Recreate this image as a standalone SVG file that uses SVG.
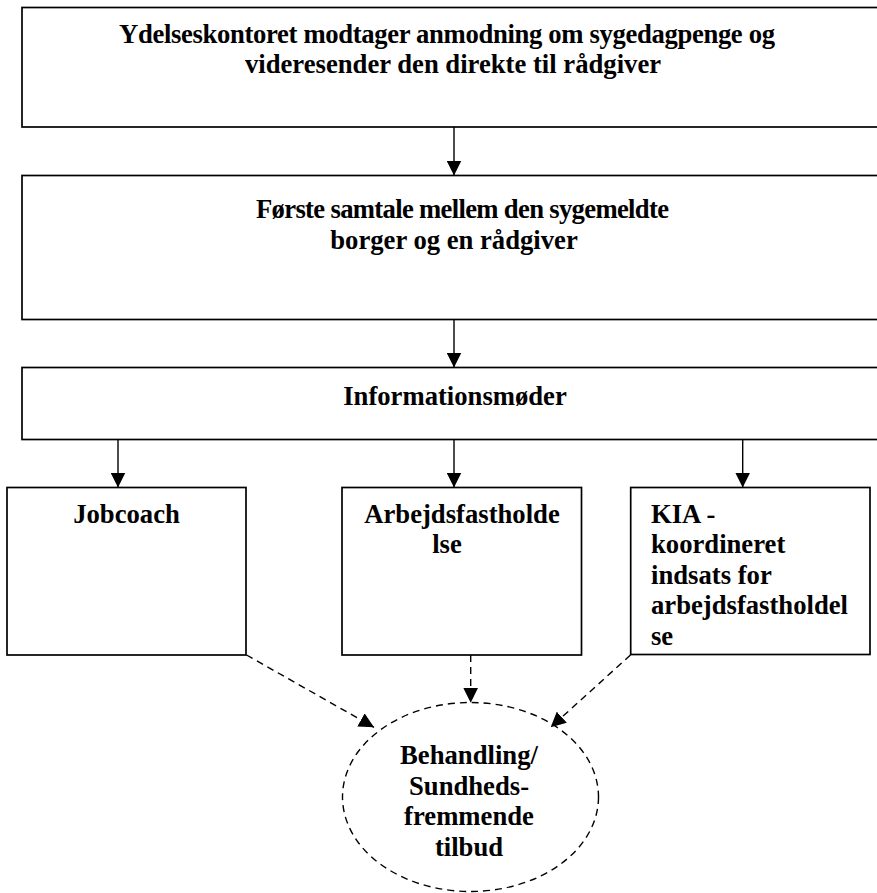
<svg xmlns="http://www.w3.org/2000/svg" width="877" height="893" viewBox="0 0 877 893">
<style>
.box{fill:#fff;stroke:#000;stroke-width:1.7}
.t{font-family:"Liberation Serif","Times New Roman",serif;font-weight:bold;font-size:26.67px;fill:#000}
.c{text-anchor:middle}
.ln{stroke:#000;stroke-width:1.4;fill:none}
.dl{stroke:#000;stroke-width:1.4;fill:none;stroke-dasharray:7 5}
.ell{fill:#fff;stroke:#000;stroke-width:1.4;stroke-dasharray:7 5}
</style>
<defs>
<marker id="ah" viewBox="0 0 15 15" refX="15" refY="7.5" markerWidth="15" markerHeight="15" markerUnits="userSpaceOnUse" orient="auto">
<path d="M0,0 L15,7.5 L0,15 Z" fill="#000"/>
</marker>
</defs>
<rect width="877" height="893" fill="#fff"/>
<g id="n1">
<rect class="box" x="22" y="7.5" width="866" height="119.5"/>
<text class="t" x="119" y="42.7" textLength="656" lengthAdjust="spacing">Ydelseskontoret modtager anmodning om sygedagpenge og</text>
<text class="t c" x="453" y="73.3">videresender den direkte til rådgiver</text>
</g>
<g id="n2">
<rect class="box" x="22" y="175.5" width="866" height="144"/>
<text class="t" x="256" y="218" textLength="413" lengthAdjust="spacing">Første samtale mellem den sygemeldte</text>
<text class="t c" x="454" y="249">borger og en rådgiver</text>
</g>
<g id="n3">
<rect class="box" x="22" y="367.5" width="866" height="72"/>
<text class="t c" x="455" y="405">Informationsmøder</text>
</g>
<g id="n4">
<rect class="box" x="7" y="487.5" width="239" height="167.5"/>
<text class="t c" x="126.5" y="522.7">Jobcoach</text>
</g>
<g id="n5">
<rect class="box" x="342" y="487.5" width="239.5" height="167.5"/>
<text class="t c" x="462" y="522.7">Arbejdsfastholde</text>
<text class="t c" x="447" y="553.2">lse</text>
</g>
<g id="n6">
<rect class="box" x="630.7" y="487.5" width="239.3" height="167"/>
<text class="t" x="651" y="522.7">KIA -</text>
<text class="t" x="651" y="553.2">koordineret</text>
<text class="t" x="651" y="583.7">indsats for</text>
<text class="t" x="651" y="614.2">arbejdsfastholdel</text>
<text class="t" x="651" y="644.7">se</text>
</g>
<g id="n7">
<ellipse class="ell" cx="470.5" cy="797" rx="128" ry="94.5"/>
<text class="t c" x="469" y="764">Behandling/</text>
<text class="t c" x="469" y="794.5">Sundheds-</text>
<text class="t c" x="469" y="825">fremmende</text>
<text class="t c" x="469" y="855.5">tilbud</text>
</g>
<g id="connectors">
<line class="ln" x1="454" y1="127" x2="454" y2="175.5" marker-end="url(#ah)"/>
<line class="ln" x1="454" y1="319.5" x2="454" y2="367.5" marker-end="url(#ah)"/>
<line class="ln" x1="118" y1="439.5" x2="118" y2="487.5" marker-end="url(#ah)"/>
<line class="ln" x1="454" y1="439.5" x2="454" y2="487.5" marker-end="url(#ah)"/>
<line class="ln" x1="742.7" y1="439.5" x2="742.7" y2="487.5" marker-end="url(#ah)"/>
<line class="dl" x1="246.5" y1="655" x2="374" y2="727.3" marker-end="url(#ah)"/>
<line class="dl" x1="470.7" y1="655" x2="470.7" y2="702.7" marker-end="url(#ah)"/>
<line class="dl" x1="630.5" y1="655" x2="550.7" y2="727.3" marker-end="url(#ah)"/>
</g>
</svg>
